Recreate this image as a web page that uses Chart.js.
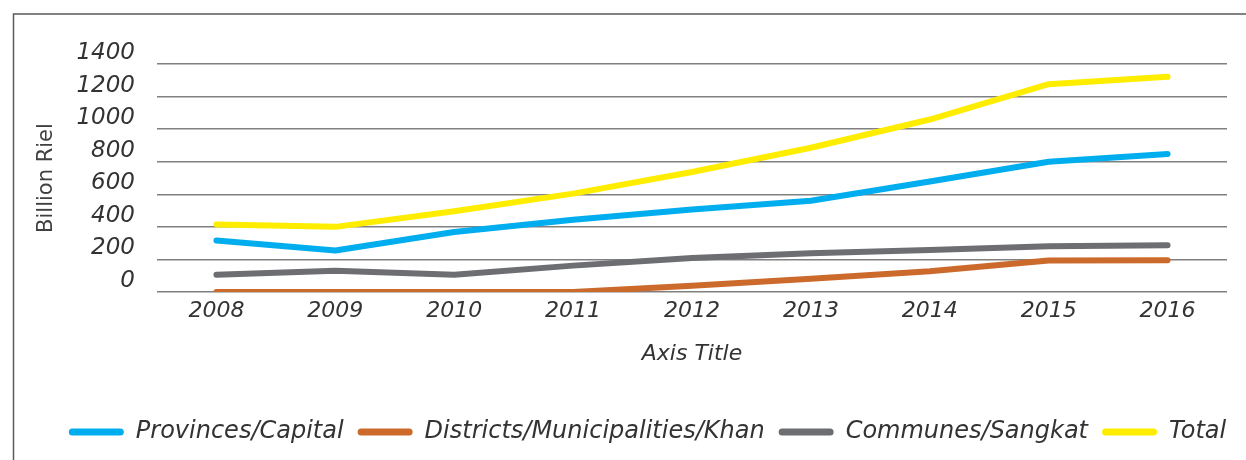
<!DOCTYPE html>
<html>
<head>
<meta charset="utf-8">
<script src="https://cdn.jsdelivr.net/npm/chart.js@4.4.1/dist/chart.umd.min.js"></script>
<style>
  html, body { margin: 0; padding: 0; background: #ffffff; }
  #wrap { width: 1246px; height: 460px; position: relative; }
</style>
</head>
<body>
<div id="wrap"><canvas id="c" width="1246" height="460"></canvas></div>
<script>
const categories = ['2008', '2009', '2010', '2011', '2012', '2013', '2014', '2015', '2016'];
const provinces = [316, 255, 368, 443, 507, 560, 679, 800, 848];
const districts = [0, 0, 0, 0, 38, 82, 127, 193, 195];
const communes = [106, 131, 106, 162, 209, 238, 258, 281, 287];
const total = [415, 400, 496, 604, 737, 886, 1059, 1276, 1321];
const seriesNames = ['Provinces/Capital', 'Districts/Municipalities/Khan', 'Communes/Sangkat', 'Total'];
const seriesColors = ['#00AEEF', '#CC6A2C', '#6D6E71', '#FFED00'];
const yTicks = { min: 0, max: 1400, step: 200 };

const FONT = "'DejaVu Sans', sans-serif";

const framePlugin = {
  id: 'frame',
  beforeDraw(chart) {
    const ctx = chart.ctx;
    ctx.save();
    ctx.fillStyle = '#ffffff';
    ctx.fillRect(0, 0, chart.width, chart.height);
    ctx.strokeStyle = '#5a5a5a';
    ctx.lineWidth = 1.5;
    ctx.strokeRect(13.5, 14, 1400, 600);
    ctx.restore();
  }
};

// shift the legend block to sit where the reference places it
const legendShift = {
  id: 'legendShift',
  afterLayout(chart) {
    if (chart.legend) {
      chart.legend.left += 34;
      chart.legend.right += 34;
    }
  }
};

const seriesData = [provinces, districts, communes, total];
const datasets = seriesData.map((d, i) => ({
  label: seriesNames[i],
  data: d,
  borderColor: seriesColors[i],
  backgroundColor: seriesColors[i],
  borderWidth: 6,
  borderCapStyle: 'round',
  borderJoinStyle: 'round',
  pointRadius: 0,
  pointHoverRadius: 0,
  tension: 0,
  fill: false
}));

new Chart(document.getElementById('c'), {
  type: 'line',
  data: { labels: categories, datasets },
  plugins: [framePlugin, legendShift],
  options: {
    responsive: false,
    animation: false,
    devicePixelRatio: 1,
    layout: { padding: { left: 0, right: 19, top: 64, bottom: 6 } },
    plugins: {
      tooltip: { enabled: false },
      legend: {
        position: 'bottom',
        align: 'center',
        labels: {
          font: { family: FONT, size: 24, style: 'italic' },
          color: '#333333',
          boxWidth: 55,
          boxHeight: 7,
          useBorderRadius: true,
          borderRadius: 3.5,
          padding: 14,
          generateLabels(chart) {
            return chart.data.datasets.map((ds, i) => ({
              text: ds.label,
              fillStyle: ds.borderColor,
              strokeStyle: ds.borderColor,
              lineWidth: 0,
              hidden: false,
              datasetIndex: i,
              borderRadius: 3.5,
              fontColor: '#333333'
            }));
          }
        }
      }
    },
    scales: {
      x: {
        type: 'category',
        offset: true,
        grid: { display: false, drawTicks: false },
        border: { display: false },
        ticks: {
          font: { family: FONT, size: 22, style: 'italic' },
          color: '#333333',
          padding: 6,
          maxRotation: 0,
          autoSkip: false
        },
        title: {
          display: true,
          text: 'Axis Title',
          font: { family: FONT, size: 22, style: 'italic' },
          color: '#333333',
          padding: { top: 0, bottom: 39 }
        },
        afterFit(scale) { scale.height = 114; }
      },
      y: {
        min: yTicks.min,
        max: yTicks.max,
        grid: { color: '#808080', lineWidth: 1.5, drawTicks: false },
        border: { display: false },
        ticks: {
          stepSize: yTicks.step,
          font: { family: FONT, size: 23, style: 'italic' },
          color: '#333333',
          padding: 22,
          labelOffset: -11,
          callback: (v) => String(v)
        },
        title: {
          display: true,
          text: 'Billion Riel',
          font: { family: FONT, size: 21 },
          color: '#404040',
          padding: { top: 34, bottom: 0 }
        },
        afterFit(scale) { scale.width = 157; }
      }
    }
  }
});
</script>
</body>
</html>
